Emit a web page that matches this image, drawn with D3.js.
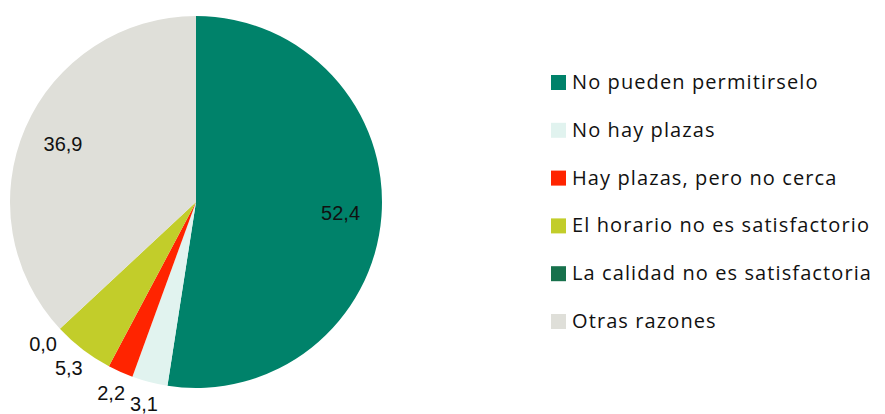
<!DOCTYPE html>
<html>
<head>
<meta charset="utf-8">
<script src="https://cdn.jsdelivr.net/npm/d3@7"></script>
<style>
  body { margin: 0; background: #fff; }
  svg { display: block; }
</style>
</head>
<body>
<svg id="chart" width="885" height="414"></svg>
<script>
// data
var categories = ["No pueden permitirselo", "No hay plazas", "Hay plazas, pero no cerca",
                  "El horario no es satisfactorio", "La calidad no es satisfactoria", "Otras razones"];
var values = [52.4, 3.1, 2.2, 5.3, 0.0, 36.9];
var labels = ["52,4", "3,1", "2,2", "5,3", "0,0", "36,9"];
var colors = ["#00826a", "#e1f3ef", "#ff2400", "#c2cd2a", "#17714c", "#dfdfd9"];

var svg = d3.select("#chart");
var cx = 196, cy = 202, r = 186;

var pie = d3.pie().sort(null).value(function(d){ return d; });
var arcs = pie(values);
var arc = d3.arc().innerRadius(0).outerRadius(r);

var g = svg.append("g").attr("transform", "translate(" + cx + "," + cy + ")");

g.selectAll("path")
  .data(arcs)
  .enter()
  .append("path")
  .attr("d", arc)
  .attr("fill", function(d, i){ return colors[i]; });

// big slices labelled inside, small ones just outside the rim
var inner = d3.arc().innerRadius(145).outerRadius(145);
var outer = d3.arc().innerRadius(209).outerRadius(209);

g.selectAll("text.lbl")
  .data(arcs)
  .enter()
  .append("text")
  .attr("class", "lbl")
  .attr("transform", function(d){
    var c = d.value > 10 ? inner.centroid(d) : outer.centroid(d);
    return "translate(" + c[0] + "," + c[1] + ")";
  })
  .attr("text-anchor", "middle")
  .attr("dy", "0.34em")
  .style("font-family", "'Liberation Sans', Arial, sans-serif")
  .style("font-size", "20px")
  .style("fill", "#111")
  .text(function(d, i){ return labels[i]; });

// legend
var legend = svg.append("g").attr("transform", "translate(551,82.5)");
var rowY = d3.scalePoint().domain(categories).range([0, 239]);

var items = legend.selectAll("g")
  .data(categories)
  .enter()
  .append("g")
  .attr("transform", function(d){ return "translate(0," + rowY(d) + ")"; });

items.append("rect")
  .attr("x", 0)
  .attr("y", -7.5)
  .attr("width", 15)
  .attr("height", 15)
  .attr("fill", function(d, i){ return colors[i]; });

items.append("text")
  .attr("x", 21)
  .attr("y", 6.5)
  .style("font-family", "'Open Sans', sans-serif")
  .style("font-size", "20px")
  .style("letter-spacing", "1.1px")
  .style("fill", "#111")
  .text(function(d){ return d; });
</script>
</body>
</html>
